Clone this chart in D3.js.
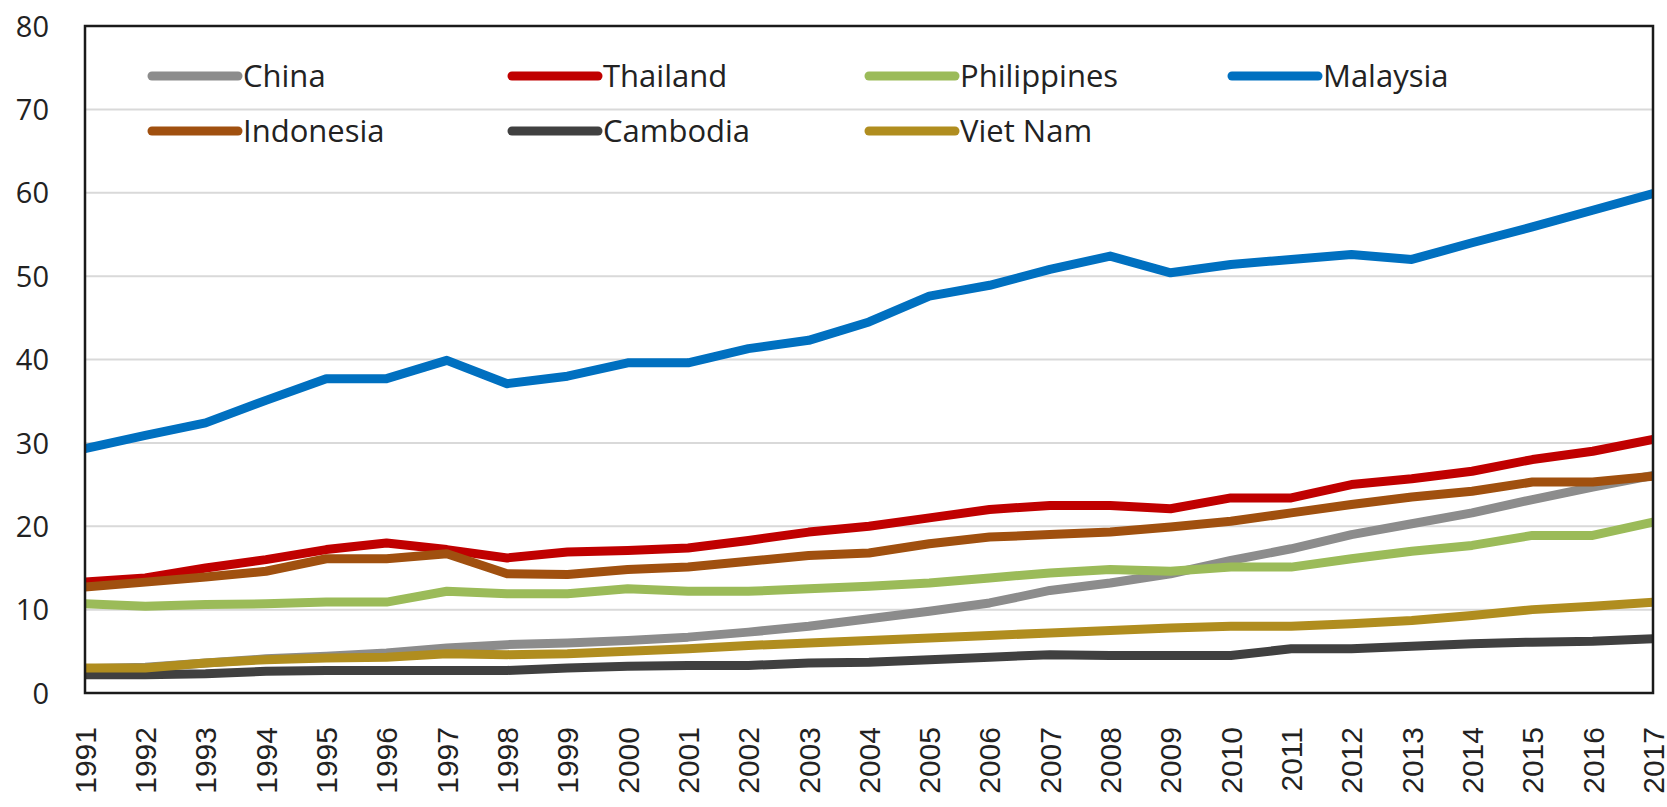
<!DOCTYPE html>
<html>
<head>
<meta charset="utf-8">
<script src="https://cdn.jsdelivr.net/npm/d3@7"></script>
<style>
  html, body { margin: 0; padding: 0; background: #fff; }
  svg { display: block; }
</style>
</head>
<body>
<svg id="chart" width="1667" height="807"></svg>
<script>
const years = [1991,1992,1993,1994,1995,1996,1997,1998,1999,2000,2001,2002,2003,2004,2005,2006,2007,2008,2009,2010,2011,2012,2013,2014,2015,2016,2017];

const china       = [2.9,3.1,3.6,4.1,4.4,4.8,5.4,5.8,6.0,6.3,6.7,7.3,8.0,8.9,9.8,10.8,12.3,13.2,14.3,15.9,17.3,19.0,20.3,21.6,23.2,24.7,26.1];
const thailand    = [13.3,13.8,15.0,16.0,17.2,18.0,17.2,16.2,16.9,17.1,17.4,18.3,19.3,20.0,21.0,22.0,22.5,22.5,22.1,23.4,23.4,25.0,25.7,26.6,28.0,29.0,30.4];
const philippines = [10.7,10.4,10.6,10.7,10.9,10.9,12.2,11.9,11.9,12.5,12.2,12.2,12.5,12.8,13.2,13.8,14.4,14.8,14.6,15.1,15.1,16.1,17.0,17.7,18.9,18.9,20.5];
const malaysia    = [29.3,30.9,32.4,35.1,37.7,37.7,39.9,37.1,38.0,39.6,39.6,41.3,42.3,44.5,47.6,48.9,50.8,52.4,50.4,51.4,52.0,52.6,52.0,54.0,55.9,57.9,59.9];
const indonesia   = [12.7,13.3,13.9,14.6,16.1,16.1,16.7,14.3,14.2,14.8,15.1,15.8,16.5,16.8,17.9,18.7,19.0,19.3,19.9,20.6,21.6,22.6,23.5,24.2,25.3,25.3,26.0];
const cambodia    = [2.2,2.2,2.3,2.6,2.7,2.7,2.7,2.7,3.0,3.2,3.3,3.3,3.6,3.7,4.0,4.3,4.6,4.5,4.5,4.5,5.3,5.3,5.6,5.9,6.1,6.2,6.5];
const vietnam     = [3.0,3.0,3.6,4.0,4.2,4.3,4.7,4.6,4.7,5.0,5.3,5.7,6.0,6.3,6.6,6.9,7.2,7.5,7.8,8.0,8.0,8.3,8.7,9.3,10.0,10.4,10.9];

const seriesNames  = ["China","Thailand","Philippines","Malaysia","Indonesia","Cambodia","Viet Nam"];
const seriesColors = ["#8c8c8c","#c00000","#9bbb59","#0070c0","#a0500f","#404040","#b08d1f"];
const yTicks = [0,10,20,30,40,50,60,70,80];

const seriesValues = [china, thailand, philippines, malaysia, indonesia, cambodia, vietnam];

const svg = d3.select("#chart");
const plotLeft = 85, plotRight = 1653, plotTop = 26, plotBottom = 693;

const x = d3.scaleLinear().domain([years[0], years[years.length-1]]).range([plotLeft, plotRight]);
const y = d3.scaleLinear().domain([0, 80]).range([plotBottom, plotTop]);

// gridlines
svg.append("g")
  .selectAll("line")
  .data(yTicks.filter(t => t > 0 && t < 80))
  .join("line")
  .attr("x1", plotLeft).attr("x2", plotRight)
  .attr("y1", d => y(d)).attr("y2", d => y(d))
  .attr("stroke", "#d9d9d9").attr("stroke-width", 2);

// y axis labels
const yAxis = d3.axisLeft(y).tickValues(yTicks).tickSize(0).tickPadding(0).tickFormat(d3.format("d"));
const yg = svg.append("g").attr("transform", `translate(49,0)`).call(yAxis);
yg.select(".domain").remove();
yg.selectAll("text")
  .attr("font-family", "'Open Sans', sans-serif")
  .attr("font-size", 29)
  .attr("fill", "#222")
  .attr("x", 0)
  .attr("dy", "0.35em");

// x axis labels
const xAxis = d3.axisBottom(x).tickValues(years).tickSize(0).tickFormat(d3.format("d"));
const xg = svg.append("g").call(xAxis);
xg.select(".domain").remove();
xg.selectAll(".tick").attr("transform", d => `translate(${x(d)},727)`);
xg.selectAll("text")
  .attr("font-family", "'Liberation Sans', Arial, sans-serif")
  .attr("font-size", 30)
  .attr("fill", "#222")
  .attr("text-anchor", "end")
  .attr("x", 0).attr("y", 0)
  .attr("dy", "0.36em")
  .attr("transform", "rotate(-90)");

// clip
svg.append("clipPath").attr("id", "plotclip")
  .append("rect").attr("x", plotLeft).attr("y", plotTop).attr("width", plotRight-plotLeft).attr("height", plotBottom-plotTop);

const line = d3.line()
  .x((d, i) => x(years[i]))
  .y(d => y(d));

svg.append("g").attr("clip-path", "url(#plotclip)")
  .selectAll("path")
  .data(seriesValues)
  .join("path")
  .attr("d", d => line(d))
  .attr("fill", "none")
  .attr("stroke", (d, i) => seriesColors[i])
  .attr("stroke-width", 9)
  .attr("stroke-linejoin", "round")
  .attr("stroke-linecap", "round");

// plot frame
svg.append("rect")
  .attr("x", plotLeft).attr("y", plotTop)
  .attr("width", plotRight-plotLeft).attr("height", plotBottom-plotTop)
  .attr("fill", "none").attr("stroke", "#1a1a1a").attr("stroke-width", 2.5);

// legend
const legendCols = [152, 512, 869, 1232];
const legendRows = [76, 131];
const lg = svg.append("g");
seriesNames.forEach((name, i) => {
  const cx = legendCols[i % 4];
  const cy = legendRows[Math.floor(i / 4)];
  lg.append("line")
    .attr("x1", cx).attr("x2", cx + 86)
    .attr("y1", cy).attr("y2", cy)
    .attr("stroke", seriesColors[i]).attr("stroke-width", 9)
    .attr("stroke-linecap", "round");
  lg.append("text")
    .attr("x", cx + 91).attr("y", cy)
    .attr("dy", "0.36em")
    .attr("font-family", "'Open Sans', sans-serif")
    .attr("font-size", 31)
    .attr("fill", "#222")
    .text(name);
});
</script>
</body>
</html>
